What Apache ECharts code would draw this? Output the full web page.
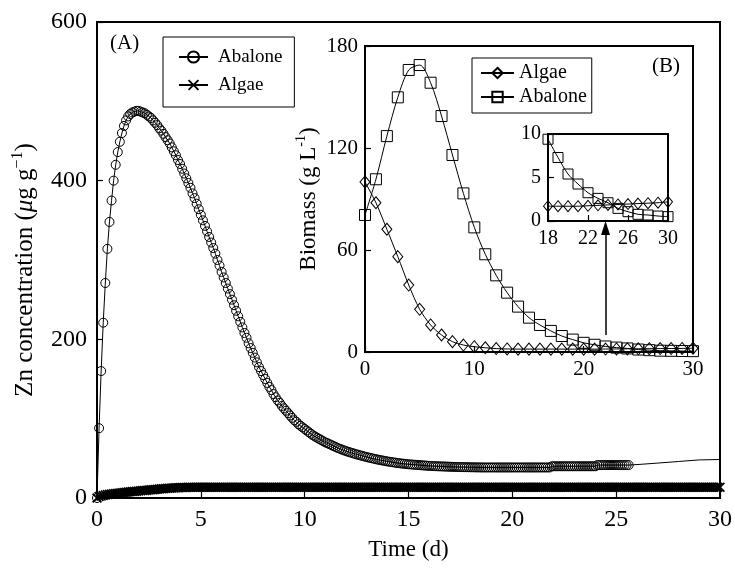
<!DOCTYPE html>
<html>
<head>
<meta charset="utf-8">
<script src="https://cdn.jsdelivr.net/npm/echarts@6/dist/echarts.min.js"></script>
<style>html,body{margin:0;padding:0;background:#fff}#c{width:735px;height:569px}</style>
</head>
<body>
<div id="c"></div>
<script>
// ---------- data ----------
// Main panel (A): Zn concentration, sampled every 0.1 d from t = 0
const abaloneZnStep = 0.1;
const abaloneZn = [
  0, 88, 160, 221, 271, 314, 348, 375, 400, 420,
  436, 449, 460, 469, 476, 481, 484, 486, 487, 488,
  488, 487, 486, 485, 483, 481, 479, 476, 473, 470,
  466, 463, 459, 455, 451, 447, 442, 437, 432, 426,
  421, 415, 409, 403, 397, 391, 384, 378, 371, 364,
  357, 350, 343, 336, 329, 322, 315, 308, 300, 293,
  285, 278, 271, 264, 257, 250, 243, 236, 229, 222,
  215, 208, 202, 195, 189, 183, 177, 171, 165, 160,
  155, 150, 145, 140, 136, 131, 127, 123, 120, 116,
  113, 110, 107, 104, 101, 98, 96, 93, 91, 89,
  87, 85, 83, 81, 79, 77.5, 76, 74.5, 73, 71.5,
  70, 69, 67.8, 66.6, 65.4, 64.2, 63, 62, 61, 60,
  59, 58.2, 57.4, 56.6, 55.8, 55, 54.3, 53.6, 52.9, 52.2,
  51.5, 50.9, 50.3, 49.7, 49.1, 48.5, 48, 47.5, 47, 46.5,
  46, 45.6, 45.2, 44.8, 44.4, 44, 43.7, 43.4, 43.1, 42.8,
  42.5, 42.3, 42.1, 41.9, 41.7, 41.5, 41.3, 41.1, 40.9, 40.7,
  40.5, 40.4, 40.2, 40.1, 40, 39.9, 39.8, 39.7, 39.6, 39.5,
  39.4, 39.3, 39.2, 39.1, 39, 39, 38.9, 38.9, 38.8, 38.8,
  38.7, 38.7, 38.6, 38.6, 38.6, 38.5, 38.5, 38.5, 38.5, 38.5,
  38.5, 38.5, 38.5, 38.5, 38.5, 38.5, 38.5, 38.5, 38.5, 38.5,
  38.5, 38.5, 38.5, 38.5, 38.5, 38.5, 38.5, 38.5, 38.5, 38.5,
  38.5, 38.5, 38.5, 38.5, 38.5, 38.5, 38.5, 38.5, 38.5, 40,
  40, 40, 40, 40, 40, 40, 40, 40, 40, 40,
  40, 40, 40, 40, 40, 40, 40, 40, 40, 40,
  40, 41.5, 41.5, 41.5, 41.5, 41.5, 41.5, 41.5, 41.5, 41.5,
  41.5, 41.5, 41.5, 41.5, 41.5, 41.5, 41.5
];
// continuation of the abalone curve (no markers) after the last marker
const abaloneTailT = [25.6, 26.2, 27, 28, 29, 30];
const abaloneTailV = [41.5, 42.5, 44, 46, 48, 48.5];
// Algae Zn concentration, sampled every 0.1 d from t = 0
const algaeZnStep = 0.1;
const algaeZn = [
  0, 1.8, 2.5, 3.2, 3.8, 4.3, 4.7, 5.1, 5.4, 5.7,
  6.0, 6.3, 6.6, 6.9, 7.2, 7.5, 7.8, 8.05, 8.3, 8.55,
  8.8, 9.05, 9.3, 9.55, 9.8, 10.05, 10.3, 10.55, 10.8, 11.05,
  11.3, 11.55, 11.8, 12.0, 12.2, 12.4, 12.6, 12.75, 12.9, 13.0,
  13.1, 13.2, 13.3, 13.35, 13.4, 13.45,
  13.5, 13.5, 13.5, 13.5, 13.5, 13.5, 13.5, 13.5, 13.5, 13.5, 13.5, 13.5, 13.5, 13.5, 13.5,
  13.5, 13.5, 13.5, 13.5, 13.5, 13.5, 13.5, 13.5, 13.5, 13.5, 13.5, 13.5, 13.5, 13.5, 13.5,
  13.5, 13.5, 13.5, 13.5, 13.5, 13.5, 13.5, 13.5, 13.5, 13.5, 13.5, 13.5, 13.5, 13.5, 13.5,
  13.5, 13.5, 13.5, 13.5, 13.5, 13.5, 13.5, 13.5, 13.5, 13.5, 13.5, 13.5, 13.5, 13.5, 13.5,
  13.5, 13.5, 13.5, 13.5, 13.5, 13.5, 13.5, 13.5, 13.5, 13.5, 13.5, 13.5, 13.5, 13.5, 13.5,
  13.5, 13.5, 13.5, 13.5, 13.5, 13.5, 13.5, 13.5, 13.5, 13.5, 13.5, 13.5, 13.5, 13.5, 13.5,
  13.5, 13.5, 13.5, 13.5, 13.5, 13.5, 13.5, 13.5, 13.5, 13.5, 13.5, 13.5, 13.5, 13.5, 13.5,
  13.5, 13.5, 13.5, 13.5, 13.5, 13.5, 13.5, 13.5, 13.5, 13.5, 13.5, 13.5, 13.5, 13.5, 13.5,
  13.5, 13.5, 13.5, 13.5, 13.5, 13.5, 13.5, 13.5, 13.5, 13.5, 13.5, 13.5, 13.5, 13.5, 13.5,
  13.5, 13.5, 13.5, 13.5, 13.5, 13.5, 13.5, 13.5, 13.5, 13.5, 13.5, 13.5, 13.5, 13.5, 13.5,
  13.5, 13.5, 13.5, 13.5, 13.5, 13.5, 13.5, 13.5, 13.5, 13.5, 13.5, 13.5, 13.5, 13.5, 13.5,
  13.5, 13.5, 13.5, 13.5, 13.5, 13.5, 13.5, 13.5, 13.5, 13.5, 13.5, 13.5, 13.5, 13.5, 13.5,
  13.5, 13.5, 13.5, 13.5, 13.5, 13.5, 13.5, 13.5, 13.5, 13.5, 13.5, 13.5, 13.5, 13.5, 13.5,
  13.5, 13.5, 13.5, 13.5, 13.5, 13.5, 13.5, 13.5, 13.5, 13.5, 13.5, 13.5, 13.5, 13.5, 13.5,
  13.5, 13.5, 13.5, 13.5, 13.5, 13.5, 13.5, 13.5, 13.5, 13.5, 13.5, 13.5, 13.5, 13.5, 13.5,
  13.5, 13.5, 13.5, 13.5, 13.5, 13.5, 13.5, 13.5, 13.5, 13.5, 13.5, 13.5, 13.5, 13.5, 13.5,
  13.5, 13.5, 13.5, 13.5, 13.5, 13.5, 13.5, 13.5, 13.5, 13.5, 13.5, 13.5, 13.5, 13.5, 13.5
];
// Inset (B): biomass, daily
const biomassT = [0,1,2,3,4,5,6,7,8,9,10,11,12,13,14,15,16,17,18,19,20,21,22,23,24,25,26,27,28,29,30];
const algaeBiomass = [100, 87.8, 72.2, 56.1, 39.4, 25.1, 15.9, 10, 6.1, 4.1, 3.1, 2.5, 2.0, 1.8, 1.7, 1.7, 1.7, 1.7,
  1.7, 1.7, 1.7, 1.7, 1.75, 1.8, 1.85, 1.9, 1.95, 2.0, 2.05, 2.1, 2.2];
const abaloneBiomass = [80.6, 101.6, 127, 149.8, 165.9, 168.8, 158.4, 138.8, 115.9, 93.3, 73.3, 57.5, 45.1, 34.9, 26.7, 20.2, 15.9, 12.4,
  9.4, 7.3, 5.4, 4.25, 3.25, 2.6, 2.1, 1.45, 1.07, 0.77, 0.69, 0.57, 0.5];
const zoomStartT = 18;

const xTicksA = {min: 0, max: 30, interval: 5};
const yTicksA = {min: 0, max: 600, interval: 200};
const xTicksB = {min: 0, max: 30, interval: 10};
const yTicksB = {min: 0, max: 180, interval: 60};
const xTicksC = {min: 18, max: 30, interval: 4};
const yTicksC = {min: 0, max: 10, interval: 5};

// ---------- build ----------
const FONT = "'Liberation Serif','Times New Roman',Times,serif";
const pairs = (step, arr) => arr.map((v, i) => [+(i * step).toFixed(2), v]);
const zip = (t, v) => t.map((x, i) => [x, v[i]]);
const sub = (t, v, from) => zip(t, v).filter(p => p[0] >= from);
const CROSS = 'path://M0,1.2L1.2,0L5,3.8L8.8,0L10,1.2L6.2,5L10,8.8L8.8,10L5,6.2L1.2,10L0,8.8L3.8,5Z';
const HOLLOW = {color: 'rgba(255,255,255,0)', borderColor: '#000', borderWidth: 1};

function axis(kind, gi, ticks, fs, margin, extra) {
  return Object.assign({
    type: 'value', gridIndex: gi, min: ticks.min, max: ticks.max, interval: ticks.interval,
    axisLine: {show: true, onZero: false, lineStyle: {color: '#000', width: 2}},
    axisTick: {show: true, inside: true, length: 6, lineStyle: {color: '#000', width: 1.2}},
    axisLabel: {color: '#000', fontFamily: FONT, fontSize: fs, margin: margin, showMinLabel: true, showMaxLabel: true},
    splitLine: {show: false}
  }, extra || {});
}

const chart = echarts.init(document.getElementById('c'), null, {renderer: 'canvas'});
const option = {
  animation: false,
  backgroundColor: '#fff',
  grid: [
    {left: 97, top: 22, width: 623, height: 476, show: true, borderColor: '#000', borderWidth: 2, backgroundColor: 'transparent'},
    {left: 365, top: 46, width: 328, height: 306, show: true, borderColor: '#000', borderWidth: 2, backgroundColor: '#fff'},
    {left: 548, top: 134, width: 120, height: 87, show: true, borderColor: '#000', borderWidth: 2, backgroundColor: '#fff'}
  ],
  xAxis: [
    axis('x', 0, xTicksA, 24, 10, {name: 'Time (d)', nameLocation: 'middle', nameGap: 40,
      nameTextStyle: {color: '#000', fontFamily: FONT, fontSize: 23}}),
    axis('x', 1, xTicksB, 21, 7),
    axis('x', 2, xTicksC, 20, 8)
  ],
  yAxis: [
    axis('y', 0, yTicksA, 24, 10, {name: 'Zn concentration ({i|μ}g g{s|−1})', nameLocation: 'middle', nameGap: 52,
      nameTextStyle: {color: '#000', fontFamily: FONT, fontSize: 25, lineHeight: 30, padding: [0, 20, 0, 0],
        rich: {i: {fontStyle: 'italic', fontFamily: FONT, fontSize: 25, color: '#000', lineHeight: 30},
               s: {fontFamily: FONT, fontSize: 16, color: '#000', verticalAlign: 'top', lineHeight: 16}}}}),
    axis('y', 1, yTicksB, 21, 7, {name: 'Biomass (g L{s|-1})', nameLocation: 'middle', nameGap: 42,
      nameTextStyle: {color: '#000', fontFamily: FONT, fontSize: 23, lineHeight: 28,
        rich: {s: {fontFamily: FONT, fontSize: 14, color: '#000', verticalAlign: 'top', lineHeight: 14}}}}),
    axis('y', 2, yTicksC, 20, 7)
  ],
  legend: [
    {orient: 'vertical', left: 163, top: 37, padding: [10, 12, 12, 15], itemGap: 8, itemWidth: 29, itemHeight: 14,
     borderColor: '#000', borderWidth: 1, backgroundColor: '#fff',
     textStyle: {color: '#000', fontFamily: FONT, fontSize: 19, padding: [0, 0, 0, 5], lineHeight: 20},
     data: ['Abalone', 'Algae'], selectedMode: false},
    {orient: 'vertical', left: 472, top: 58, padding: [5, 5, 6, 8], itemGap: 4, itemWidth: 33, itemHeight: 13,
     borderColor: '#000', borderWidth: 1, backgroundColor: '#fff',
     textStyle: {color: '#000', fontFamily: FONT, fontSize: 20, lineHeight: 20},
     formatter: n => n.replace(' (B)', ''),
     data: ['Algae (B)', 'Abalone (B)'], selectedMode: false}
  ],
  graphic: [
    {type: 'text', left: 110, top: 33, style: {text: '(A)', fill: '#000', font: '21px ' + FONT}},
    {type: 'text', left: 652, top: 56, style: {text: '(B)', fill: '#000', font: '21px ' + FONT}}
  ],
  series: [
    {name: 'Abalone', type: 'line', xAxisIndex: 0, yAxisIndex: 0, data: pairs(abaloneZnStep, abaloneZn),
     symbol: 'circle', symbolSize: 9, showAllSymbol: true, clip: false,
     itemStyle: HOLLOW, lineStyle: {color: '#000', width: 1}, z: 4},
    {name: 'tail', type: 'line', xAxisIndex: 0, yAxisIndex: 0, data: zip(abaloneTailT, abaloneTailV),
     symbol: 'none', lineStyle: {color: '#000', width: 1}, z: 3},
    {name: 'Algae', type: 'line', xAxisIndex: 0, yAxisIndex: 0, data: pairs(algaeZnStep, algaeZn),
     symbol: CROSS, symbolSize: 10, showAllSymbol: true, clip: false,
     itemStyle: {color: '#000'}, lineStyle: {color: '#000', width: 1}, z: 3},

    {name: 'Algae (B)', type: 'line', xAxisIndex: 1, yAxisIndex: 1, data: zip(biomassT, algaeBiomass),
     symbol: 'diamond', symbolSize: [10, 12], smooth: 0.3, clip: false,
     itemStyle: HOLLOW, lineStyle: {color: '#000', width: 1}},
    {name: 'Abalone (B)', type: 'line', xAxisIndex: 1, yAxisIndex: 1, data: zip(biomassT, abaloneBiomass),
     symbol: 'rect', symbolSize: 11, smooth: 0.3, clip: false,
     itemStyle: HOLLOW, lineStyle: {color: '#000', width: 1},
     markLine: {silent: true, symbol: ['none', 'triangle'], symbolSize: [9, 14], animation: false,
       label: {show: false}, lineStyle: {color: '#000', width: 1.5, type: 'solid'},
       data: [[{coord: [22, 10]}, {coord: [22, 73]}]]}},

    {name: 'Algae (B)', type: 'line', xAxisIndex: 2, yAxisIndex: 2, data: sub(biomassT, algaeBiomass, zoomStartT),
     symbol: 'diamond', symbolSize: [9, 11], smooth: 0.3, clip: false,
     itemStyle: HOLLOW, lineStyle: {color: '#000', width: 1}},
    {name: 'Abalone (B)', type: 'line', xAxisIndex: 2, yAxisIndex: 2, data: sub(biomassT, abaloneBiomass, zoomStartT),
     symbol: 'rect', symbolSize: 10, smooth: 0.3, clip: false,
     itemStyle: HOLLOW, lineStyle: {color: '#000', width: 1}}
  ]
};
chart.setOption(option);
</script>
</body>
</html>
